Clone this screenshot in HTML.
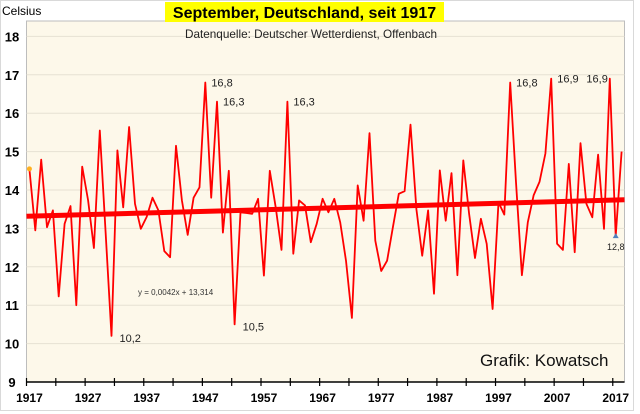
<!DOCTYPE html>
<html><head><meta charset="utf-8"><style>
html,body{margin:0;padding:0;background:#fff;}
svg{display:block;font-family:"Liberation Sans",Arial,sans-serif;}
</style></head><body>
<svg id="chart" width="640" height="414" viewBox="0 0 640 414">
<rect x="0.5" y="0.5" width="633" height="410" fill="#fff" stroke="#d9d9d9"/>
<rect x="26.5" y="21" width="598" height="361" fill="#fdf8ea" stroke="#bdbdbd"/>
<g id="grid"></g>
<g id="axes"></g>
<g id="series"></g>
<text x="2" y="15" font-size="12" fill="#000">Celsius</text>
<rect x="165" y="2" width="279" height="20" fill="#ffff00"/>
<text x="304.5" y="18" font-size="16" font-weight="bold" text-anchor="middle">September, Deutschland, seit 1917</text>
<text x="311" y="38" font-size="12" text-anchor="middle" fill="#222" textLength="252" lengthAdjust="spacingAndGlyphs">Datenquelle: Deutscher Wetterdienst, Offenbach</text>
<text x="138" y="295" font-size="8" fill="#333">y = 0,0042x + 13,314</text>
<text x="480" y="366" font-size="17" fill="#111">Grafik: Kowatsch</text>
</svg>
<script>
const years = [];
for (let y = 1917; y <= 2018; y++) years.push(y);
const temps = [14.55,12.95,14.79,13.03,13.47,11.23,13.12,13.58,11.0,14.61,13.73,12.49,15.55,12.9,10.2,15.03,13.55,15.64,13.64,12.99,13.3,13.8,13.47,12.41,12.25,15.15,13.73,12.83,13.8,14.07,16.8,13.8,16.3,12.89,14.5,10.5,13.42,13.4,13.38,13.77,11.77,14.5,13.55,12.44,16.3,12.34,13.73,13.6,12.64,13.12,13.77,13.42,13.77,13.16,12.16,10.67,14.12,13.2,15.48,12.68,11.89,12.16,13.03,13.9,13.97,15.7,13.5,12.29,13.47,11.3,14.51,13.2,14.44,11.78,14.77,13.38,12.23,13.25,12.6,10.9,13.68,13.36,16.8,14.2,11.78,13.16,13.86,14.21,14.95,16.9,12.6,12.44,14.68,12.38,15.22,13.64,13.29,14.92,12.99,16.9,12.8,15.0];
const yTicks = [9,10,11,12,13,14,15,16,17,18];
const xTickLabels = [1917,1927,1937,1947,1957,1967,1977,1987,1997,2007,2017];
const trendSlope = 0.0042, trendIntercept = 13.314;
const pointLabels = [[1931,"10,2",1],[1947,"16,8",0],[1949,"16,3",0],[1952,"10,5",1],[1961,"16,3",0],[1999,"16,8",0],[2006,"16,9",0],[2016,"16,9",2],[2017,"12,8",3]];

const NS = "http://www.w3.org/2000/svg";
const L = 26.5, R = 624.5, Y0 = 382, PX = 38.4;
const step = (R - L) / years.length;
const xs = i => L + step * (i + 0.5);
const ys = v => Y0 - (v - 9) * PX;
function mk(tag, attrs, parent) { const e = document.createElementNS(NS, tag); for (const k in attrs) e.setAttribute(k, attrs[k]); parent.appendChild(e); return e; }
const grid = document.getElementById('grid'), axes = document.getElementById('axes'), ser = document.getElementById('series');

yTicks.forEach(t => {
  if (t > 9) {
    const g = mk('line', {x1: L, x2: R, y1: ys(t), y2: ys(t), stroke: '#e6e1d3', 'stroke-width': 1}, grid);
    
    
  }
  const tx = mk('text', {x: 12, y: ys(t) + 5, 'font-size': 13, 'font-weight': 'bold', 'text-anchor': 'middle'}, axes);
  tx.textContent = t;
  
  
});
const ax = mk('line', {x1: L, x2: R, y1: Y0, y2: Y0, stroke: '#000', 'stroke-width': 1.5}, axes);


for (let i = 0; i <= years.length; i += 5) {
  const tk = mk('line', {x1: L + step * i, x2: L + step * i, y1: Y0 - 4, y2: Y0 + 4, stroke: '#000', 'stroke-width': 1.2}, axes);
  
  
}
xTickLabels.forEach(yr => {
  const i = years.indexOf(yr);
  const tx = mk('text', {x: xs(i), y: 402, 'font-size': 12, 'font-weight': 'bold', 'text-anchor': 'middle'}, axes);
  tx.textContent = yr;
  
  
});

const tr = mk('line', {x1: L, x2: R, y1: ys(trendIntercept + trendSlope * 0.5), y2: ys(trendIntercept + trendSlope * (years.length + 0.5)), stroke: '#ff0000', 'stroke-width': 5}, ser);



const pts = temps.map((v, i) => xs(i).toFixed(1) + ',' + ys(v).toFixed(1)).join(' ');
const pl = mk('polyline', {points: pts, fill: 'none', stroke: '#ff0000', 'stroke-width': 1.8, 'stroke-linejoin': 'round'}, ser);



const first = mk('circle', {cx: xs(0), cy: ys(temps[0]), r: 2.5, fill: '#ffb020'}, ser);


const li = years.indexOf(2017);
const tri = mk('polygon', {points: `${xs(li)-3},${ys(temps[li])+2} ${xs(li)+3},${ys(temps[li])+2} ${xs(li)},${ys(temps[li])-3}`, fill: '#4f81bd'}, ser);



pointLabels.forEach(([yr, txt, pos]) => {
  const i = years.indexOf(yr);
  let x = xs(i) + 6, y = ys(temps[i]) + 4, anchor = 'start', fs = 11;
  if (pos === 1) { x = xs(i) + 8; y = ys(temps[i]) + 6; }
  if (pos === 2) { x = xs(i) - 2; y = ys(temps[i]) + 4; anchor = 'end'; }
  if (pos === 3) { x = xs(i); y = ys(temps[i]) + 14; anchor = 'middle'; fs = 9; }
  const t = mk('text', {x: x, y: y, 'font-size': fs, 'text-anchor': anchor, fill: '#222'}, ser);
  t.textContent = txt;
  
  
});
</script>
</body></html>
